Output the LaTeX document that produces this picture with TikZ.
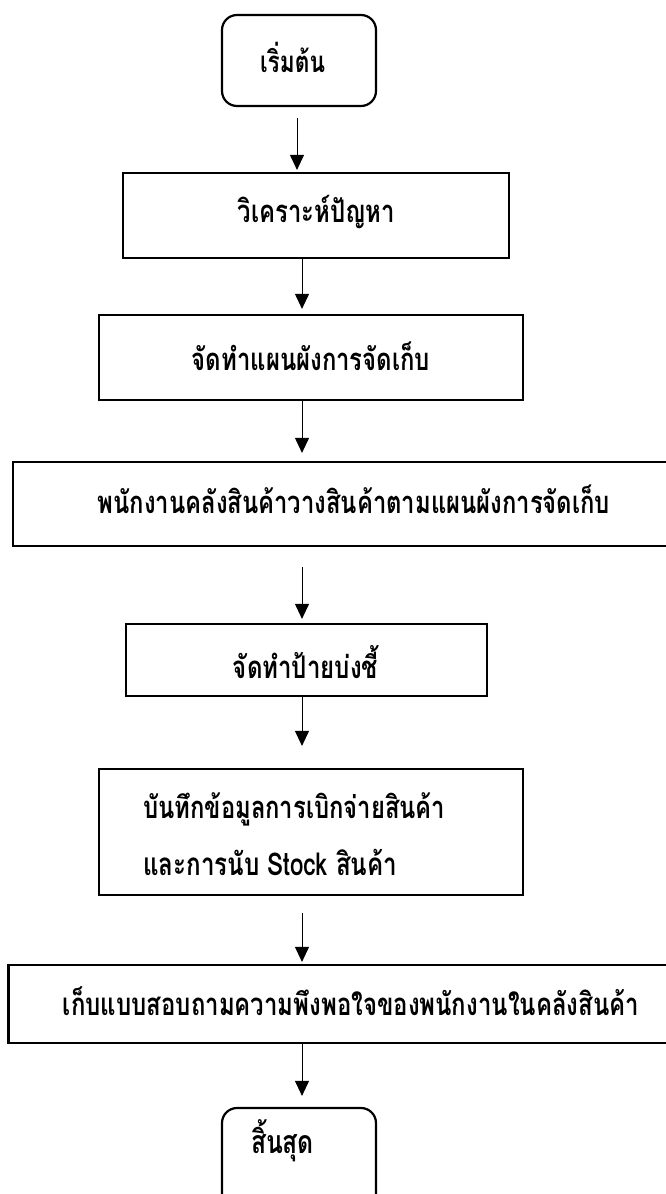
\documentclass[tikz,border=0pt]{standalone}
\usepackage{graphicx}
\usepackage{fontspec}
\newfontfamily\thaifont[Script=Thai]{Loma}
\newcommand{\fitw}[2]{\scalebox{1}[1.3]{\resizebox{#1}{!}{\thaifont\bfseries\fontsize{24}{28}\selectfont #2}}}
\usetikzlibrary{arrows.meta,calc}
\begin{document}
\begin{tikzpicture}[x=1pt,y=-1pt,
  box/.style={draw, line width=2.2pt, rectangle, inner sep=0pt},
  term/.style={box, rounded corners=15pt},
  arr/.style={line width=1pt, -{Triangle[width=14pt,length=15pt]}},
  lbl/.style={inner sep=0pt, anchor=base}]
\useasboundingbox (0,0) rectangle (666,1194);
\clip (0,0) rectangle (666,1194);
\fill[white] (0,0) rectangle (666,1194);
\coordinate (ax1) at (297,0);
\coordinate (ax) at (302,0);
% boxes and texts
\node[term, minimum width=154pt, minimum height=91pt] (start) at (299,60.5) {};
\node[lbl] (tstart) at (292.5,72) {\fitw{65pt}{เริ่มต้น}};
\node[box, minimum width=386pt, minimum height=85pt] (b2) at (316,215.5) {};
\node[lbl] (t2) at (316.5,222) {\fitw{157pt}{วิเคราะห์ปัญหา}};
\node[box, minimum width=424pt, minimum height=85pt] (b3) at (311,357.5) {};
\node[lbl] (t3) at (311,370) {\fitw{238pt}{จัดทำแผนผังการจัดเก็บ}};
\node[box, minimum width=682pt, minimum height=84pt] (b4) at (354,504) {};
\node[lbl] (t4) at (354,513) {\fitw{512pt}{พนักงานคลังสินค้าวางสินค้าตามแผนผังการจัดเก็บ}};
\node[box, minimum width=361pt, minimum height=72pt] (b5) at (306.5,660) {};
\node[lbl] (t5) at (305.5,678) {\fitw{145pt}{จัดทำป้ายบ่งชี้}};
\node[box, minimum width=424pt, minimum height=126pt] (b6) at (311,832) {};
\node[lbl, anchor=base west] (t6a) at (143,818) {\fitw{302pt}{บันทึกข้อมูลการเบิกจ่ายสินค้า}};
\node[lbl, anchor=base west] (t6b) at (143,875) {\fitw{254pt}{และการนับ Stock สินค้า}};
\node[box, minimum width=685pt, minimum height=78pt] (b7) at (351,1004) {};
\node[lbl] (t7) at (351,1015) {\fitw{576pt}{เก็บแบบสอบถามความพึงพอใจของพนักงานในคลังสินค้า}};
\node[term, minimum width=154pt, minimum height=102pt] (end) at (299,1159) {};
\node[lbl] (tend) at (282.5,1153) {\fitw{63pt}{สิ้นสุด}};
% arrows
\draw[arr] ($(start.south -| ax1)+(0,11)$) -- ($(b2.north -| ax1)+(0,-2)$);
\draw[arr] (b2.south -| ax) -- ($(b3.north -| ax)+(0,-5)$);
\draw[arr] (b3.south -| ax) -- ($(b4.north -| ax)+(0,-8)$);
\draw[arr] ($(b4.south -| ax)+(0,20)$) -- ($(b5.north -| ax)+(0,-4)$);
\draw[arr] (b5.south -| ax) -- ($(b6.north -| ax)+(0,-22)$);
\draw[arr] ($(b6.south -| ax)+(0,17)$) -- ($(b7.north -| ax)+(0,-2)$);
\draw[arr] (b7.south -| ax) -- ($(end.north -| ax)+(0,-11)$);
\end{tikzpicture}
\end{document}
